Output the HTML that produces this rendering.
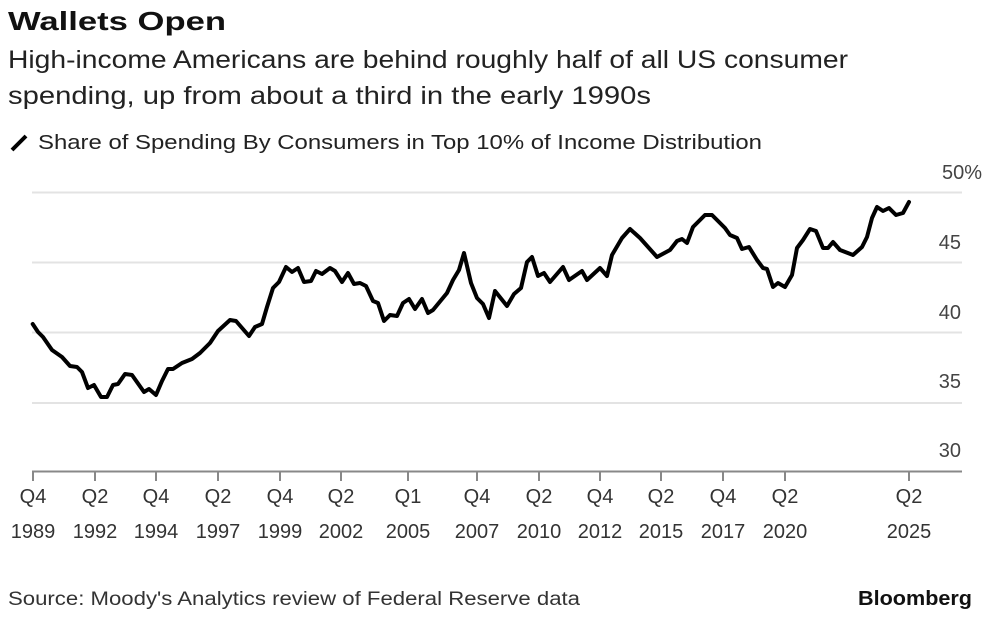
<!DOCTYPE html>
<html><head><meta charset="utf-8"><style>
body{margin:0;background:#fff;width:992px;height:616px;overflow:hidden;font-family:"Liberation Sans",sans-serif;}
</style></head><body>
<svg width="992" height="616" xmlns="http://www.w3.org/2000/svg" font-family="Liberation Sans, sans-serif">
<text x="8" y="30" font-size="26" font-weight="bold" fill="#111" textLength="218" lengthAdjust="spacingAndGlyphs">Wallets Open</text>
<text x="8" y="68" font-size="25" fill="#222" textLength="840" lengthAdjust="spacingAndGlyphs">High-income Americans are behind roughly half of all US consumer</text>
<text x="8" y="104" font-size="25" fill="#222" textLength="643" lengthAdjust="spacingAndGlyphs">spending, up from about a third in the early 1990s</text>
<line x1="12" y1="150" x2="26" y2="136" stroke="#000" stroke-width="4"/>
<text x="38" y="149" font-size="20" fill="#222" textLength="724" lengthAdjust="spacingAndGlyphs">Share of Spending By Consumers in Top 10% of Income Distribution</text>
<g stroke="#e3e3e3" stroke-width="2">
<line x1="32" y1="192.5" x2="962" y2="192.5"/>
<line x1="32" y1="262.5" x2="962" y2="262.5"/>
<line x1="32" y1="332.5" x2="962" y2="332.5"/>
<line x1="32" y1="403" x2="962" y2="403"/>
</g>
<line x1="32" y1="471.5" x2="962" y2="471.5" stroke="#888" stroke-width="2"/>
<g stroke="#888" stroke-width="2">
<line x1="33" y1="471" x2="33" y2="481"/><line x1="95" y1="471" x2="95" y2="481"/><line x1="156" y1="471" x2="156" y2="481"/><line x1="218" y1="471" x2="218" y2="481"/><line x1="280" y1="471" x2="280" y2="481"/><line x1="341" y1="471" x2="341" y2="481"/><line x1="408" y1="471" x2="408" y2="481"/><line x1="477" y1="471" x2="477" y2="481"/><line x1="539" y1="471" x2="539" y2="481"/><line x1="600" y1="471" x2="600" y2="481"/><line x1="661" y1="471" x2="661" y2="481"/><line x1="723" y1="471" x2="723" y2="481"/><line x1="785" y1="471" x2="785" y2="481"/><line x1="909" y1="471" x2="909" y2="481"/>
</g>
<g font-size="20" fill="#444" text-anchor="end">
<text x="982" y="179">50%</text>
<text x="961" y="249">45</text>
<text x="961" y="319">40</text>
<text x="961" y="388">35</text>
<text x="961" y="457">30</text>
</g>
<g font-size="20" fill="#333" text-anchor="middle">
<text x="33" y="503">Q4</text><text x="33" y="538">1989</text>
<text x="95" y="503">Q2</text><text x="95" y="538">1992</text>
<text x="156" y="503">Q4</text><text x="156" y="538">1994</text>
<text x="218" y="503">Q2</text><text x="218" y="538">1997</text>
<text x="280" y="503">Q4</text><text x="280" y="538">1999</text>
<text x="341" y="503">Q2</text><text x="341" y="538">2002</text>
<text x="408" y="503">Q1</text><text x="408" y="538">2005</text>
<text x="477" y="503">Q4</text><text x="477" y="538">2007</text>
<text x="539" y="503">Q2</text><text x="539" y="538">2010</text>
<text x="600" y="503">Q4</text><text x="600" y="538">2012</text>
<text x="661" y="503">Q2</text><text x="661" y="538">2015</text>
<text x="723" y="503">Q4</text><text x="723" y="538">2017</text>
<text x="785" y="503">Q2</text><text x="785" y="538">2020</text>
<text x="909" y="503">Q2</text><text x="909" y="538">2025</text>
</g>
<polyline fill="none" stroke="#000" stroke-width="4" stroke-linejoin="round" stroke-linecap="round" points="32.7,324 38,332 43,337 52,350 62,357 70,366 77,367 82,372 88,388 94,385 101,397 107,397 113,385 118,384 125,374 132,375 144,392 149,389 156,395 162,381 168,369 173,369 182,363 192,359 200,353 210,343 218,331 230,320 236,321 249,336 255,327 262,324 267,307 273,288 279,282 286,267 292,272 298,268 304,282 311,281 316,271 322,274 330,268 335,271 342,282 348,273 354,284 360,283 366,286 373,301 378,303 384,321 390,315 397,316 403,303 409,299 415,309 422,299 428,313 433,310 447,293 453,280 459,270 464,253 471,283 477,298 483,304 489,318 495,291 507,306 514,294 521,288 527,262 532,257 538,276 544,273 550,282 563,267 569,280 582,271 587,280 600,268 607,276 612,255 622,238 630,229 640,238 657,257 670,250 677,241 682,239 687,243 693,227 705,215 712,215 725,228 730,235 737,238 742,249 749,247 757,260 763,268 767,269 773,287 778,283 785,287 792,275 797,248 803,240 810,229 816,231 823,248 828,248 833,242 840,250 853,255 862,247 867,237 872,218 877,207 883,211 889,208 896,215 903,213 909,202"/>
<text x="8" y="605" font-size="19" fill="#333" textLength="572" lengthAdjust="spacingAndGlyphs">Source: Moody's Analytics review of Federal Reserve data</text>
<text x="972" y="605" font-size="20" font-weight="bold" fill="#111" text-anchor="end" textLength="114" lengthAdjust="spacingAndGlyphs">Bloomberg</text>
</svg>
</body></html>
